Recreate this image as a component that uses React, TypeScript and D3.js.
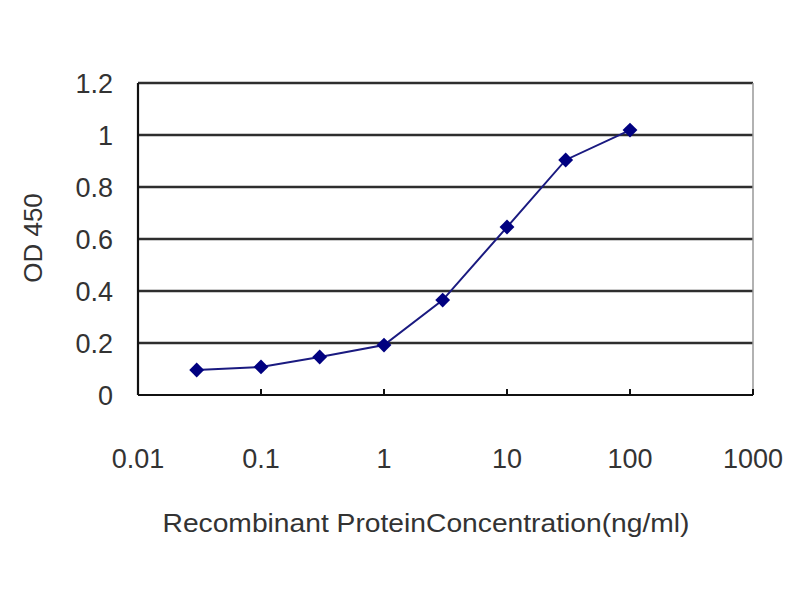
import React from "react";
import * as d3 from "d3";

const concentrations = [0.03, 0.1, 0.3, 1, 3, 10, 30, 100];
const odValues = [0.096, 0.108, 0.146, 0.192, 0.365, 0.646, 0.904, 1.019];
const xTicks = [0.01, 0.1, 1, 10, 100, 1000];
const xTickLabels = ["0.01", "0.1", "1", "10", "100", "1000"];
const yTicks = [0, 0.2, 0.4, 0.6, 0.8, 1, 1.2];
const yTickLabels = ["0", "0.2", "0.4", "0.6", "0.8", "1", "1.2"];

export default function App() {
  const W = 800, H = 600;
  const left = 138, right = 753, top = 83, bottom = 395;
  const x = d3.scaleLog().domain([0.01, 1000]).range([left, right]);
  const y = d3.scaleLinear().domain([0, 1.2]).range([bottom, top]);
  const line = d3.line<number>().x((_, i) => x(concentrations[i])).y((d) => y(d));
  const font = "'Liberation Sans', Arial, sans-serif";
  const marker = d3.symbol().type(d3.symbolSquare).size(110)();
  return (
    <svg width={W} height={H} style={{ position: "absolute", left: 0, top: 0, background: "#fff" }}>
      <rect x={0} y={0} width={W} height={H} fill="#fff" />
      {yTicks.slice(1).map((t) => (
        <line key={t} x1={left} x2={right} y1={y(t)} y2={y(t)} stroke="#2e2e2e" strokeWidth={2.6} />
      ))}
      <line x1={right} x2={right} y1={top} y2={bottom} stroke="#999" strokeWidth={1.5} />
      <line x1={left} x2={left} y1={top} y2={bottom} stroke="#111" strokeWidth={2.2} />
      <line x1={left} x2={right} y1={bottom} y2={bottom} stroke="#111" strokeWidth={2.2} />
      {xTicks.map((t) => (
        <line key={t} x1={x(t)} x2={x(t)} y1={bottom} y2={bottom - 6} stroke="#111" strokeWidth={2} />
      ))}
      {yTicks.map((t, i) => (
        <text key={t} x={113} y={y(t)} dy="0.36em" textAnchor="end" fontFamily={font} fontSize={27} fill="#333">
          {yTickLabels[i]}
        </text>
      ))}
      {xTicks.map((t, i) => (
        <text key={t} x={x(t)} y={468} textAnchor="middle" fontFamily={font} fontSize={27} fill="#333">
          {xTickLabels[i]}
        </text>
      ))}
      <path d={line(odValues) || ""} fill="none" stroke="#1a1a80" strokeWidth={2} />
      {odValues.map((v, i) => (
        <path key={i} d={marker || ""} transform={`translate(${x(concentrations[i])},${y(v)}) rotate(45)`} fill="#000080" />
      ))}
      <text x={426} y={532} textAnchor="middle" fontFamily={font} fontSize={25} fill="#333" textLength={527} lengthAdjust="spacingAndGlyphs">
        Recombinant ProteinConcentration(ng/ml)
      </text>
      <text transform="translate(42,238) rotate(-90)" textAnchor="middle" fontFamily={font} fontSize={26} fill="#333">
        OD 450
      </text>
    </svg>
  );
}
